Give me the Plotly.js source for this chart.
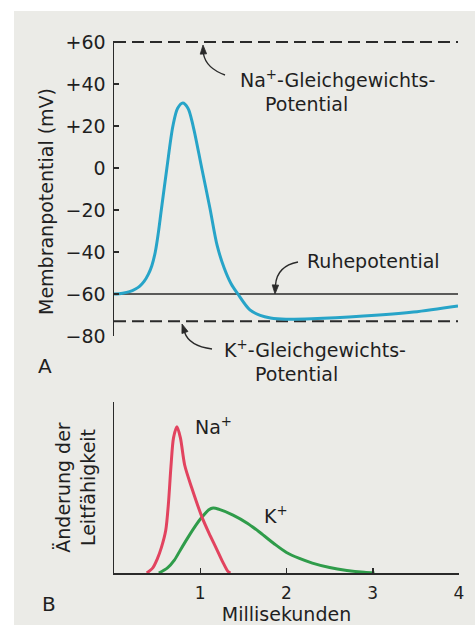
<!DOCTYPE html>
<html>
<head>
<meta charset="utf-8">
<script src="https://cdn.plot.ly/plotly-3.0.1.min.js"></script>
<style>
  html, body { margin: 0; padding: 0; background: #ffffff; }
  #chart { width: 475px; height: 625px; }
</style>
</head>
<body>
<div id="chart"></div>
<script>
// A: membrane potential (mV) during an action potential, time in ms
const apTime    = [0, 0.1, 0.18, 0.25, 0.3, 0.35, 0.4, 0.44, 0.48, 0.515, 0.55, 0.615, 0.685, 0.74, 0.8, 0.86, 0.92, 1.02, 1.115, 1.2, 1.28, 1.36, 1.44, 1.58, 1.7, 1.82, 2.0, 2.3, 2.9, 3.48, 4.0];
const apVoltage = [-60, -59.6, -58.9, -57.6, -56.2, -54, -50.5, -46.5, -40, -31, -20, 0, 20, 28.5, 31, 28.5, 20, 0, -19, -37, -47.5, -55, -60, -67.6, -70.2, -71.4, -72, -71.8, -70.5, -68.6, -65.7];

const restPotential = -60;   // Ruhepotential
const naEquilibrium = 60;    // Na+ equilibrium potential
const kEquilibrium  = -73;   // K+ equilibrium potential

const potentialTicks    = [60, 40, 20, 0, -20, -40, -60, -80];
const potentialTickText = ['+60', '+40', '+20', '0', '\u221220', '\u221240', '\u221260', '\u221280'];

// B: change of Na+ and K+ conductance (relative units), time in ms
const naTime        = [0.38, 0.45, 0.5, 0.55, 0.6, 0.63, 0.66, 0.69, 0.73, 0.77, 0.82, 0.9, 1.02, 1.1, 1.19, 1.26, 1.32, 1.35];
const naConductance = [0, 0.03, 0.08, 0.15, 0.25, 0.4, 0.62, 0.79, 0.855, 0.79, 0.63, 0.5, 0.327, 0.235, 0.14, 0.065, 0.01, 0];

const kTime        = [0.52, 0.62, 0.7, 0.77, 0.86, 0.95, 1.02, 1.1, 1.15, 1.22, 1.38, 1.55, 1.7, 1.86, 2.0, 2.15, 2.3, 2.5, 2.7, 2.9, 3.02];
const kConductance = [0, 0.03, 0.075, 0.135, 0.21, 0.28, 0.327, 0.37, 0.38, 0.372, 0.339, 0.29, 0.234, 0.17, 0.12, 0.085, 0.058, 0.032, 0.015, 0.004, 0];

const timeTicks    = [1, 2, 3, 4];
const timeTickText = ['1', '2', '3', '4'];

// ---- styling ----
const W = 475, H = 625;
const px = v => v / W;          // pixel -> paper x
const py = v => 1 - v / H;      // pixel -> paper y
const ink = '#2a2a2a';
const textInk = '#1f1f1f';
const FONT = 'DejaVu Sans, sans-serif';
const paperTone = '#ebebe7';

const traces = [
  { x: [0, 4], y: [naEquilibrium, naEquilibrium], xaxis: 'x', yaxis: 'y', mode: 'lines',
    line: { color: ink, width: 2, dash: '12px,6px' }, cliponaxis: false, hoverinfo: 'skip' },
  { x: [0, 4], y: [kEquilibrium, kEquilibrium], xaxis: 'x', yaxis: 'y', mode: 'lines',
    line: { color: ink, width: 2, dash: '12px,6px' }, cliponaxis: false, hoverinfo: 'skip' },
  { x: [0, 4], y: [restPotential, restPotential], xaxis: 'x', yaxis: 'y', mode: 'lines',
    line: { color: ink, width: 1.5 }, cliponaxis: false, hoverinfo: 'skip' },
  { x: apTime, y: apVoltage, xaxis: 'x', yaxis: 'y', mode: 'lines',
    line: { color: '#27a4c8', width: 3, shape: 'spline', smoothing: 0.9 }, cliponaxis: false },
  { x: kTime, y: kConductance, xaxis: 'x2', yaxis: 'y2', mode: 'lines',
    line: { color: '#2f9c4a', width: 3, shape: 'spline', smoothing: 0.8 } },
  { x: naTime, y: naConductance, xaxis: 'x2', yaxis: 'y2', mode: 'lines',
    line: { color: '#e2435f', width: 3, shape: 'spline', smoothing: 0.8 } }
];

// curved pointer arrows (pixel space, converted to paper fractions)
function curve(x0, y0, cx, cy, x1, y1) {
  return {
    type: 'path', xref: 'paper', yref: 'paper', layer: 'above',
    path: `M ${px(x0)} ${py(y0)} Q ${px(cx)} ${py(cy)} ${px(x1)} ${py(y1)}`,
    line: { color: ink, width: 1.4 }
  };
}
// filled arrowhead: tip at (tx, ty), pointing away from (fx, fy)
function head(tx, ty, fx, fy) {
  const dx = tx - fx, dy = ty - fy, len = Math.hypot(dx, dy);
  const ux = dx / len, uy = dy / len, L = 9, hw = 3.2;
  const bx = tx - ux * L, by = ty - uy * L;
  const p1 = [bx - uy * hw, by + ux * hw], p2 = [bx + uy * hw, by - ux * hw];
  return {
    type: 'path', xref: 'paper', yref: 'paper', layer: 'above',
    path: `M ${px(tx)} ${py(ty)} L ${px(p1[0])} ${py(p1[1])} L ${px(p2[0])} ${py(p2[1])} Z`,
    fillcolor: ink, line: { color: ink, width: 0.8 }
  };
}
function label(text, x, y, size, anchor, angle) {
  return {
    xref: 'paper', yref: 'paper', x: px(x), y: py(y), text: text, showarrow: false,
    xanchor: anchor || 'left', yanchor: 'middle', textangle: angle || 0,
    font: { family: FONT, size: size || 19, color: textInk }
  };
}

const layout = {
  width: W, height: H,
  margin: { l: 0, r: 0, t: 0, b: 0 },
  paper_bgcolor: '#ffffff',
  plot_bgcolor: 'rgba(0,0,0,0)',
  showlegend: false,
  font: { family: FONT, color: textInk },
  xaxis: { domain: [px(114), px(458)], range: [0, 4], anchor: 'y', visible: false },
  yaxis: {
    domain: [py(336), py(40.8)], range: [-80, 60.6], anchor: 'x',
    showline: true, linecolor: ink, linewidth: 1.5,
    ticks: 'inside', ticklen: 5, tickwidth: 1.5, tickcolor: ink,
    tickvals: potentialTicks, ticktext: potentialTickText,
    tickfont: { family: FONT, size: 19, color: textInk }, ticklabelstandoff: 3,
    showgrid: false, zeroline: false
  },
  xaxis2: {
    domain: [px(114), px(459)], range: [0, 4], anchor: 'y2',
    showline: true, linecolor: ink, linewidth: 1.5,
    ticks: 'inside', ticklen: 5, tickwidth: 1.5, tickcolor: ink,
    tickvals: timeTicks, ticktext: timeTickText,
    tickfont: { family: FONT, size: 17, color: textInk }, ticklabelstandoff: 4,
    showgrid: false, zeroline: false,
    title: { text: 'Millisekunden', font: { family: FONT, size: 19, color: textInk }, standoff: 7 }
  },
  yaxis2: {
    domain: [py(573), py(402)], range: [0, 1], anchor: 'x2',
    showline: true, linecolor: ink, linewidth: 1.5,
    ticks: '', showticklabels: false, showgrid: false, zeroline: false,
    title: { text: '\u00c4nderung der<br>Leitf\u00e4higkeit', font: { family: FONT, size: 19, color: textInk }, standoff: 12 }
  },
  shapes: [
    { type: 'rect', xref: 'paper', yref: 'paper', layer: 'below',
      x0: px(14), x1: 1, y0: 0, y1: py(11), fillcolor: paperTone, line: { width: 0 } },
    curve(225, 75, 206, 68, 203.5, 54),
    head(203, 45, 203.5, 56),
    curve(298, 262, 277, 266, 275.5, 285),
    head(275, 294, 275.5, 283),
    curve(212, 349, 189, 346, 184.5, 332),
    head(182, 324, 185.5, 334)
  ],
  annotations: [
    label('Membranpotential (mV)', 46, 202, 19, 'center', -90),
    label('Na<sup>+</sup>-Gleichgewichts-', 238, 79),
    label('Potential', 263, 104),
    label('Ruhepotential', 305, 261),
    label('K<sup>+</sup>-Gleichgewichts-', 222, 349),
    label('Potential', 253, 374),
    label('A', 45, 366, 20, 'center'),
    label('B', 49, 604, 20, 'center'),
    label('Na<sup>+</sup>', 193, 426),
    label('K<sup>+</sup>', 262, 515)
  ]
};

Plotly.newPlot('chart', traces, layout, { displayModeBar: false, staticPlot: true });
</script>
</body>
</html>
